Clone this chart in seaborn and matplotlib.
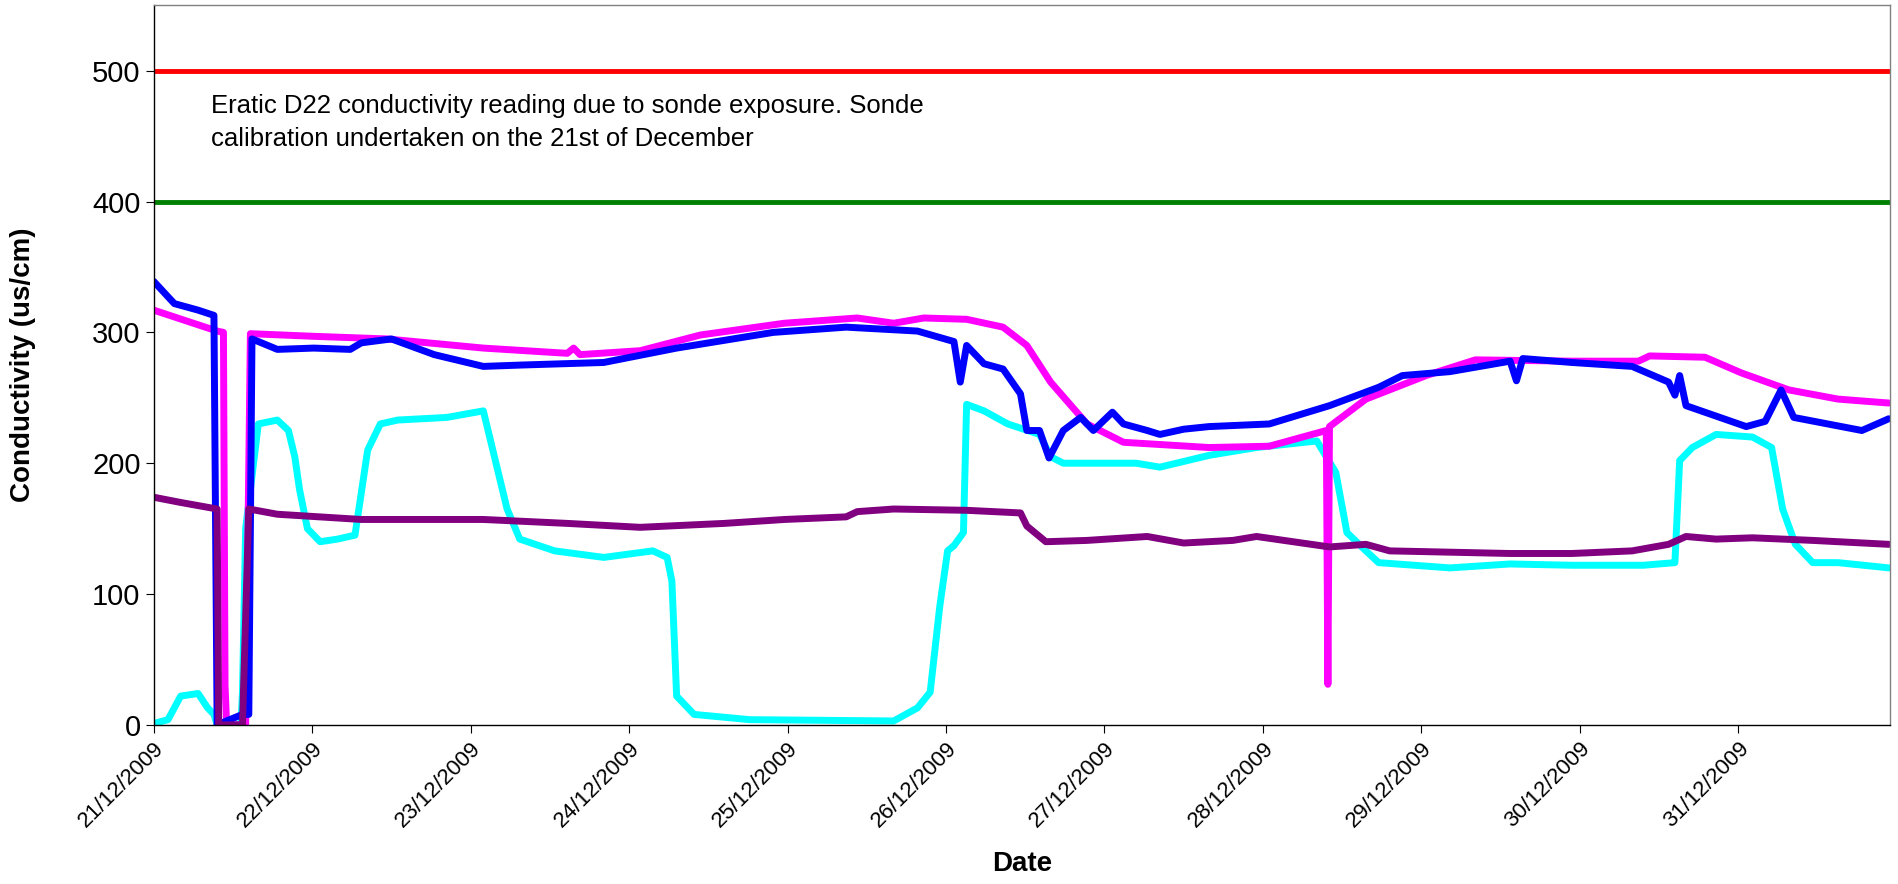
import matplotlib
matplotlib.use("Agg")
import matplotlib.pyplot as plt
import matplotlib.dates as mdates
import seaborn as sns
import pandas as pd

start = pd.Timestamp("2009-12-21")

blue_t = [0.00,0.13,0.28,0.38,0.40,0.56,0.60,0.62,0.78,1.01,1.24,1.31,1.50,1.77,2.08,2.31,2.84,3.30,3.91,4.37,4.82,5.05,5.09,5.13,5.24,5.36,5.47,5.51,5.59,5.65,5.74,5.85,5.93,6.05,6.12,6.27,6.35,6.50,6.66,7.04,7.42,7.73,7.88,8.18,8.56,8.60,8.64,8.95,9.33,9.56,9.60,9.63,9.67,9.86,10.05,10.17,10.27,10.35,10.78,10.95]
blue_v = [339,322,317,313,0,8,8,295,287,288,287,292,295,283,274,275,277,288,300,304,301,293,262,290,276,272,253,225,225,204,225,235,225,239,230,225,222,226,228,230,244,258,267,270,278,263,280,277,274,262,252,267,244,236,228,232,256,235,225,234]

mag_t = [0.00,0.40,0.44,0.45,0.46,0.58,0.61,1.01,1.47,2.08,2.61,2.65,2.69,3.07,3.45,3.98,4.44,4.67,4.86,5.13,5.36,5.51,5.66,5.89,6.12,6.66,7.04,7.40,7.41,7.42,7.65,8.03,8.34,8.95,9.37,9.44,9.79,10.02,10.32,10.63,10.95]
mag_v = [317,301,300,30,0,0,299,297,295,288,284,288,283,286,298,307,311,307,311,310,304,290,262,230,216,212,213,225,31,228,249,267,279,278,278,282,281,269,256,249,246]

cyan_t = [0.00,0.09,0.17,0.28,0.34,0.38,0.40,0.55,0.56,0.58,0.66,0.78,0.85,0.89,0.92,0.97,1.05,1.16,1.27,1.35,1.43,1.54,1.85,2.08,2.15,2.23,2.31,2.53,2.84,3.15,3.24,3.27,3.30,3.41,3.76,4.67,4.82,4.90,4.96,5.01,5.05,5.11,5.13,5.24,5.39,5.59,5.66,5.74,6.20,6.35,6.66,6.96,7.34,7.46,7.53,7.65,7.73,8.18,8.56,8.95,9.40,9.60,9.63,9.71,9.86,10.09,10.21,10.28,10.36,10.47,10.63,10.95]
cyan_v = [1,4,22,24,13,8,0,0,25,150,230,233,225,205,180,150,140,142,145,210,230,233,235,240,205,165,142,133,128,133,128,110,22,8,4,3,13,25,90,133,137,147,245,240,230,222,205,200,200,197,206,212,217,193,147,133,124,120,123,122,122,124,202,212,222,220,212,165,138,124,124,120]

purp_t = [0.00,0.17,0.40,0.41,0.56,0.60,0.78,1.31,2.08,2.61,3.07,3.60,3.98,4.37,4.44,4.67,5.13,5.47,5.51,5.63,5.89,6.27,6.50,6.81,6.96,7.42,7.65,7.80,8.56,8.95,9.33,9.56,9.67,9.86,10.09,10.47,10.95]
purp_v = [174,170,165,0,0,165,161,157,157,154,151,154,157,159,163,165,164,162,152,140,141,144,139,141,144,136,138,133,131,131,133,138,144,142,143,141,138]

red_limit = 500
green_limit = 400
note = "Eratic D22 conductivity reading due to sonde exposure. Sonde\ncalibration undertaken on the 21st of December"

sns.set_style("white")
plt.rcParams['font.family'] = ['Liberation Sans', 'DejaVu Sans']
plt.rcParams['text.color'] = 'black'
plt.rcParams['axes.labelcolor'] = 'black'
plt.rcParams['xtick.color'] = 'black'
plt.rcParams['ytick.color'] = 'black'

fig = plt.figure(figsize=(18.98, 8.84), dpi=100)
ax = fig.add_axes([0.081, 0.18, 0.915, 0.814])

def tt(days):
    return start + pd.to_timedelta(days, unit="D")

ax.axhline(red_limit, color="#ff0000", lw=3.5)
ax.axhline(green_limit, color="#008000", lw=3.5)
for t, v, c in [(cyan_t, cyan_v, "#00ffff"), (mag_t, mag_v, "#ff00ff"),
                (blue_t, blue_v, "#0000ff"), (purp_t, purp_v, "#800080")]:
    sns.lineplot(x=tt(t), y=v, ax=ax, color=c, lw=5, estimator=None, sort=False)

ax.text(tt(0.36), 482, note, fontsize=18.5, va="top", ha="left", linespacing=1.45, color="black")

ax.set_ylim(0, 550)
ax.set_yticks([0, 100, 200, 300, 400, 500])
ax.set_xlim(start, start + pd.Timedelta(days=10.96))
ax.xaxis.set_major_locator(mdates.DayLocator())
ax.xaxis.set_major_formatter(mdates.DateFormatter("%d/%m/%Y"))
plt.setp(ax.get_xticklabels(), rotation=45, ha="right", rotation_mode="anchor")
ax.tick_params(axis="both", length=6, direction="out", bottom=True, left=True, colors="black")
ax.tick_params(axis="x", labelsize=16)
ax.tick_params(axis="y", labelsize=21)
for s in ax.spines.values():
    s.set_color("#808080"); s.set_linewidth(1)
ax.spines["left"].set_color("black"); ax.spines["bottom"].set_color("black")
ax.set_xlabel("Date", fontsize=20, fontweight="bold", labelpad=14, color="black")
ax.set_ylabel("Conductivity (us/cm)", fontsize=20, fontweight="bold", labelpad=40, color="black")

fig.savefig("out.png", dpi=100)
